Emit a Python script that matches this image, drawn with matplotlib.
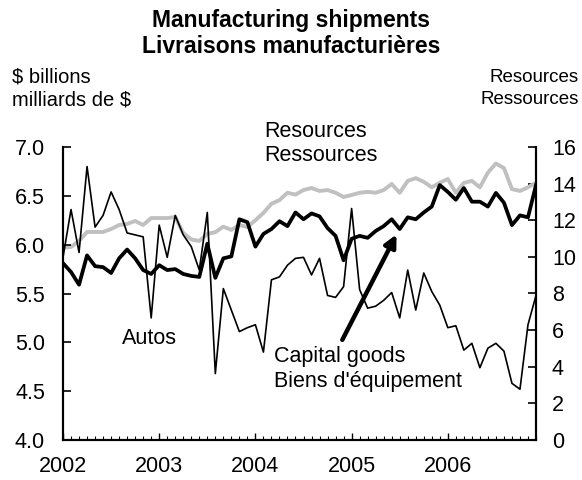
import numpy as np
import matplotlib
matplotlib.use('Agg')
import matplotlib.pyplot as plt
from matplotlib.ticker import MultipleLocator, FormatStrFormatter

plt.rcParams['font.family'] = ['Liberation Sans', 'DejaVu Sans']

# monthly data, Jan 2002 - Dec 2006
start_year = 2002
capital_goods = [5.81, 5.72, 5.59, 5.89, 5.78, 5.77, 5.71, 5.86, 5.95, 5.86, 5.74, 5.70,
                 5.79, 5.74, 5.75, 5.70, 5.68, 5.67, 6.01, 5.66, 5.86, 5.88, 6.26, 6.23,
                 5.98, 6.11, 6.16, 6.24, 6.19, 6.33, 6.26, 6.32, 6.29, 6.17, 6.09, 5.84,
                 6.06, 6.09, 6.07, 6.14, 6.19, 6.26, 6.16, 6.28, 6.26, 6.33, 6.39, 6.61,
                 6.54, 6.46, 6.58, 6.44, 6.44, 6.39, 6.53, 6.43, 6.20, 6.30, 6.28, 6.61]
autos = [5.87, 6.36, 5.92, 6.80, 6.18, 6.30, 6.54, 6.36, 6.12, 6.10, 6.08, 5.25,
         6.20, 5.87, 6.30, 6.10, 5.98, 5.74, 6.33, 4.68, 5.55, 5.33, 5.11, 5.15,
         5.18, 4.90, 5.64, 5.67, 5.79, 5.86, 5.87, 5.69, 5.86, 5.48, 5.46, 5.57,
         6.37, 5.54, 5.35, 5.37, 5.43, 5.51, 5.25, 5.74, 5.33, 5.71, 5.52, 5.38,
         5.15, 5.17, 4.92, 4.99, 4.74, 4.94, 4.99, 4.91, 4.58, 4.52, 5.18, 5.48]
resources = [10.49, 10.54, 10.87, 11.36, 11.36, 11.36, 11.52, 11.74, 11.80, 11.96, 11.74, 12.12,
             12.12, 12.12, 12.18, 11.30, 10.95, 10.87, 11.25, 11.35, 11.65, 11.47, 11.74, 11.63,
             12.00, 12.40, 12.90, 13.10, 13.50, 13.40, 13.65, 13.76, 13.60, 13.65, 13.50, 13.27,
             13.38, 13.50, 13.55, 13.50, 13.65, 13.98, 13.50, 14.15, 14.30, 14.10, 13.80, 14.05,
             14.25, 13.50, 14.04, 14.15, 13.80, 14.60, 15.10, 14.85, 13.70, 13.60, 13.80, 14.05]
year_labels = ['2002', '2003', '2004', '2005', '2006']

x = start_year + np.arange(len(capital_goods)) / 12.0

W, H = 582, 480
FS = 15.5
fig = plt.figure(figsize=(W / 100, H / 100), dpi=100)
ax = fig.add_axes([63 / W, 1 - 440 / H, (536 - 63) / W, (440 - 147) / H])
ax2 = ax.twinx()

ax2.plot(x, resources, color='#c0c0c0', lw=2.8)
ax.plot(x, autos, color='black', lw=1.2)
ax.plot(x, capital_goods, color='black', lw=2.7)

# left axis on top of the twin so black lines sit over the gray one
ax.set_zorder(ax2.get_zorder() + 1)
ax.patch.set_visible(False)

ax.set_xlim(x[0], x[-1])
ax.set_ylim(4.0, 7.0)
ax2.set_ylim(0, 16)

ax.yaxis.set_major_locator(MultipleLocator(0.5))
ax.yaxis.set_major_formatter(FormatStrFormatter('%.1f'))
ax2.yaxis.set_major_locator(MultipleLocator(2))
ax.set_xticks([int(y) for y in year_labels])
ax.set_xticklabels(year_labels)
ax.xaxis.set_minor_locator(MultipleLocator(1 / 12))

for a in (ax, ax2):
    a.spines['top'].set_visible(False)
    a.spines['left'].set_linewidth(1.5)
    a.spines['right'].set_linewidth(1.5)
    a.spines['bottom'].set_linewidth(1.5)

ax.tick_params(axis='y', direction='in', length=6, width=1.2, labelsize=FS, pad=13)
ax2.tick_params(axis='y', direction='in', length=6, width=1.2, labelsize=FS, pad=11.5)
ax.tick_params(axis='x', which='major', direction='in', length=5, width=1.0, labelsize=FS, pad=11.5)
ax.tick_params(axis='x', which='minor', direction='in', length=3, width=0.8)

def fx(px):
    return px / W

def fy(py):
    return 1 - py / H

fig.text(0.5, fy(33.5), 'Manufacturing shipments\nLivraisons manufacturières',
         ha='center', va='center', fontsize=16.5, weight='bold', linespacing=1.2)
fig.text(fx(12), fy(88.5), '$ billions\nmilliards de $', ha='left', va='center',
         fontsize=14.5, linespacing=1.27)
fig.text(fx(579), fy(88.5), 'Resources\nRessources', ha='right', va='center',
         fontsize=13.5, linespacing=1.35, multialignment='right')
fig.text(fx(264), fy(143.5), 'Resources\nRessources', ha='left', va='center',
         fontsize=FS, linespacing=1.2)
fig.text(fx(122), fy(338), 'Autos', ha='left', va='center', fontsize=FS)
fig.text(fx(274), fy(369), "Capital goods\nBiens d'équipement", ha='left', va='center',
         fontsize=FS, linespacing=1.2)

# arrow pointing at the capital goods line
ax.annotate('', xy=(2005.48, 6.13), xytext=(2004.89, 5.0),
            arrowprops=dict(arrowstyle='-|>', lw=3.2, color='black', mutation_scale=18))

fig.savefig('out.png', dpi=100)
